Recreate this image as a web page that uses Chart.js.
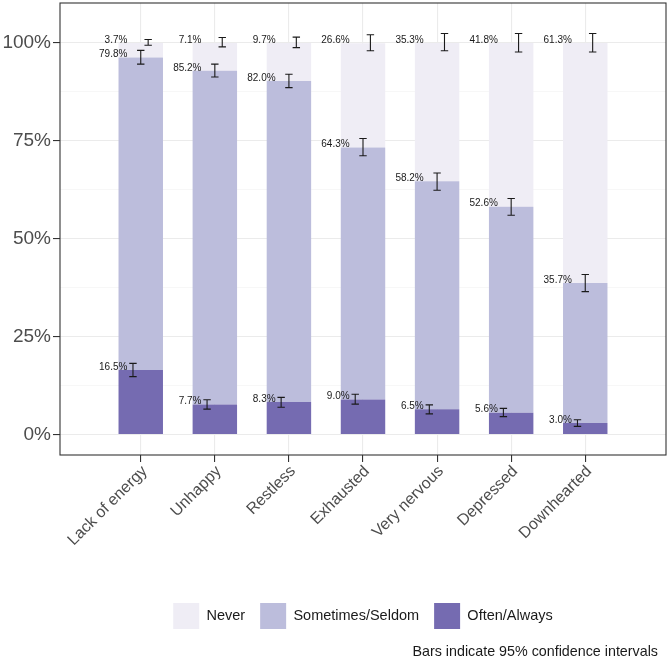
<!DOCTYPE html>
<html>
<head>
<meta charset="utf-8">
<script src="https://cdn.jsdelivr.net/npm/chart.js@4"></script>
<style>
  html, body { margin: 0; padding: 0; background: #fff; }
  #box { width: 670px; height: 662px; }
</style>
</head>
<body>
<div id="box"><canvas id="graphique"></canvas></div>
<script>
// Categories and shares (in %)
const categories = ["Lack of energy", "Unhappy", "Restless", "Exhausted", "Very nervous", "Depressed", "Downhearted"];
const often = [16.5, 7.7, 8.3, 9.0, 6.5, 5.6, 3.0];
const sometimes = [79.8, 85.2, 82.0, 64.3, 58.2, 52.6, 35.7];
const never = [3.7, 7.1, 9.7, 26.6, 35.3, 41.8, 61.3];

// 95% confidence intervals, read at the cumulative top of each segment
const oftenLow = [14.8, 6.5, 7.0, 7.8, 5.3, 4.6, 2.1];
const oftenHigh = [18.2, 8.9, 9.5, 10.3, 7.6, 6.7, 3.8];
const sometimesLow = [94.6, 91.3, 88.6, 71.2, 62.4, 56.0, 36.5];
const sometimesHigh = [98.1, 94.6, 92.0, 75.6, 66.8, 60.3, 40.9];
const neverLow = [99.4, 99.0, 98.8, 98.0, 98.0, 97.7, 97.7];
const neverHigh = [100.9, 101.4, 101.5, 102.1, 102.4, 102.4, 102.4];

const yTicks = [0, 12.5, 25, 37.5, 50, 62.5, 75, 87.5, 100];

const police = "'Liberation Sans', Arial, Helvetica, sans-serif";

function points(valeurs) {
  return valeurs.map((v, i) => ({ x: i, y: v }));
}

// Error bars and value labels, dodged per series
const erreurs = [
  { low: oftenLow, high: oftenHigh, values: often, dodge: -0.105 },
  { low: sometimesLow, high: sometimesHigh, values: sometimes, dodge: 0 },
  { low: neverLow, high: neverHigh, values: never, dodge: 0.1 }
];

const pluginErreurs = {
  id: "erreurs",
  afterDatasetsDraw(chart) {
    const ctx = chart.ctx;
    const x = chart.scales.x;
    const y = chart.scales.y;
    const cap = (x.getPixelForValue(0.05) - x.getPixelForValue(0));
    ctx.save();
    ctx.strokeStyle = "#1a1a1a";
    ctx.lineWidth = 1.1;
    ctx.fillStyle = "#1a1a1a";
    ctx.font = "10px " + police;
    ctx.textAlign = "right";
    ctx.textBaseline = "middle";
    for (let i = 0; i < categories.length; i++) {
      let cumul = 0;
      for (let d = 0; d < erreurs.length; d++) {
        const e = erreurs[d];
        cumul += e.values[i];
        const px = x.getPixelForValue(i + e.dodge);
        const y1 = y.getPixelForValue(e.low[i]);
        const y2 = y.getPixelForValue(e.high[i]);
        ctx.beginPath();
        ctx.moveTo(px, y1);
        ctx.lineTo(px, y2);
        ctx.moveTo(px - cap, y1);
        ctx.lineTo(px + cap, y1);
        ctx.moveTo(px - cap, y2);
        ctx.lineTo(px + cap, y2);
        ctx.stroke();
        const tx = x.getPixelForValue(i - 0.18);
        const ty = y.getPixelForValue(Math.min(cumul, 100)) - 3;
        ctx.fillText(e.values[i].toFixed(1) + "%", tx, ty);
      }
    }
    ctx.restore();
  },
  afterDraw(chart) {
    const ctx = chart.ctx;
    const a = chart.chartArea;
    ctx.save();
    // panel border
    ctx.strokeStyle = "#333333";
    ctx.lineWidth = 1.1;
    ctx.strokeRect(a.left, a.top, a.right - a.left, a.bottom - a.top);
    // caption
    ctx.fillStyle = "#1a1a1a";
    ctx.font = "14.3px " + police;
    ctx.textAlign = "right";
    ctx.textBaseline = "alphabetic";
    ctx.fillText("Bars indicate 95% confidence intervals", 658, 656);
    ctx.restore();
  }
};

const data = {
  datasets: [
    { label: "Often/Always", data: points(often), backgroundColor: "#756bb1" },
    { label: "Sometimes/Seldom", data: points(sometimes), backgroundColor: "#bcbddc" },
    { label: "Never", data: points(never), backgroundColor: "#efedf5" }
  ]
};

const config = {
  type: "bar",
  data: data,
  options: {
    responsive: true,
    maintainAspectRatio: false,
    animation: false,
    layout: { padding: { top: 3, right: 4, bottom: 23, left: 0 } },
    datasets: {
      bar: { barPercentage: 0.6, categoryPercentage: 1, borderWidth: 0 }
    },
    plugins: {
      tooltip: { enabled: false },
      legend: {
        position: "bottom",
        fullSize: false,
        reverse: true,
        labels: {
          boxWidth: 26,
          boxHeight: 26,
          padding: 15,
          color: "#1a1a1a",
          font: { family: police, size: 14.5 }
        }
      }
    },
    scales: {
      x: {
        type: "linear",
        stacked: true,
        offset: false,
        min: -1.09,
        max: 7.09,
        afterBuildTicks(scale) {
          scale.ticks = categories.map((c, i) => ({ value: i }));
        },
        afterFit(scale) {
          scale.height = 133;
          scale.paddingLeft = 0;
          scale.paddingRight = 0;
        },
        ticks: {
          autoSkip: false,
          maxRotation: 45,
          minRotation: 45,
          padding: 0,
          labelOffset: 4,
          color: "#4d4d4d",
          font: { family: police, size: 16 },
          callback: (v) => categories[v]
        },
        grid: {
          offset: false,
          color: "#ebebeb",
          lineWidth: 1.1,
          tickColor: "#333333",
          tickLength: 7,
          tickWidth: 1.1
        },
        border: { display: false }
      },
      y: {
        stacked: true,
        min: -5.2,
        max: 110.2,
        afterBuildTicks(scale) {
          scale.ticks = yTicks.map(v => ({ value: v }));
        },
        afterFit(scale) {
          scale.width = 60;
          scale.paddingTop = 0;
          scale.paddingBottom = 0;
        },
        ticks: {
          padding: 2,
          color: "#4d4d4d",
          font: { family: police, size: 19 },
          callback: (v) => (v % 25 === 0 ? v + "%" : "")
        },
        grid: {
          color: (c) => (c.tick && c.tick.value % 25 === 0 ? "#ebebeb" : "#f3f3f3"),
          lineWidth: (c) => (c.tick && c.tick.value % 25 === 0 ? 1.1 : 0.7),
          tickColor: (c) => (c.tick && c.tick.value % 25 === 0 ? "#333333" : "rgba(0,0,0,0)"),
          tickLength: 7,
          tickWidth: 1.1
        },
        border: { display: false }
      }
    }
  },
  plugins: [pluginErreurs]
};

const graphique = new Chart(document.querySelector("#graphique"), config);
</script>
</body>
</html>
